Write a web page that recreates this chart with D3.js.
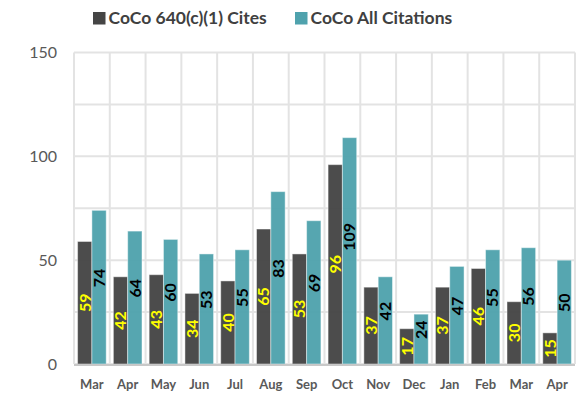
<!DOCTYPE html>
<html>
<head>
<meta charset="utf-8">
<script src="https://cdn.jsdelivr.net/npm/d3@7"></script>
<style>
  html, body { margin: 0; padding: 0; background: #ffffff; }
  svg { display: block; }
</style>
</head>
<body>
<svg id="chart" width="584" height="396"></svg>
<script>
// Monthly citation counts
const months = ["Mar", "Apr", "May", "Jun", "Jul", "Aug", "Sep", "Oct", "Nov", "Dec", "Jan", "Feb", "Mar", "Apr"];
const cites640 = [59, 42, 43, 34, 40, 65, 53, 96, 37, 17, 37, 46, 30, 15];
const citesAll = [74, 64, 60, 53, 55, 83, 69, 109, 42, 24, 47, 55, 56, 50];
const seriesNames = ["CoCo 640(c)(1) Cites", "CoCo All Citations"];
const yTicks = [0, 50, 100, 150];
const yGrid = [0, 25, 50, 75, 100, 125, 150];

const colors = ["#454545", "#4fa2ad"];
const labelColors = ["#ffff00", "#000000"];

const svg = d3.select("#chart");
const margin = { left: 74, right: 9, top: 52.5, bottom: 32 };
const W = 584, H = 396;

const x0 = d3.scaleBand()
  .domain(d3.range(months.length))
  .range([margin.left, W - margin.right])
  .paddingInner(0.2)
  .paddingOuter(0.1);

const x1 = d3.scaleBand()
  .domain([0, 1])
  .range([0, x0.bandwidth()]);

const y = d3.scaleLinear()
  .domain([0, 150])
  .range([H - margin.bottom, margin.top]);

// Grid: horizontal every 25, vertical at category boundaries
const grid = svg.append("g").attr("class", "grid");
grid.selectAll("line.h")
  .data(yGrid)
  .join("line")
  .attr("class", "h")
  .attr("x1", margin.left).attr("x2", W - margin.right)
  .attr("y1", d => y(d)).attr("y2", d => y(d))
  .attr("stroke", "#e3e3e3").attr("stroke-width", 2);

const [r0] = x0.range();
grid.selectAll("line.v")
  .data(d3.range(months.length + 1))
  .join("line")
  .attr("class", "v")
  .attr("x1", i => r0 + i * x0.step()).attr("x2", i => r0 + i * x0.step())
  .attr("y1", y(150)).attr("y2", y(0))
  .attr("stroke", "#e3e3e3").attr("stroke-width", 2);

// Bars
const rows = months.map((m, i) => ({ i, vals: [cites640[i], citesAll[i]] }));
const groups = svg.append("g").selectAll("g")
  .data(rows)
  .join("g")
  .attr("transform", d => `translate(${x0(d.i)},0)`);

groups.selectAll("rect")
  .data(d => d.vals.map((v, s) => ({ v, s })))
  .join("rect")
  .attr("x", d => x1(d.s))
  .attr("width", x1.bandwidth())
  .attr("y", d => y(d.v))
  .attr("height", d => y(0) - y(d.v))
  .attr("fill", d => colors[d.s])
  .attr("fill-opacity", 0.96)
  .attr("stroke", "#ffffff")
  .attr("stroke-opacity", 0.45)
  .attr("stroke-width", 1);

// Baseline
svg.append("line")
  .attr("x1", margin.left).attr("x2", W - margin.right)
  .attr("y1", y(0) + 1).attr("y2", y(0) + 1)
  .attr("stroke", "#c8c8c8").attr("stroke-width", 2);

// Value labels, rotated to read upward
groups.selectAll("text")
  .data(d => d.vals.map((v, s) => ({ v, s })))
  .join("text")
  .attr("transform", d => `translate(${x1(d.s) + x1.bandwidth() / 2},${y(d.v / 2)}) rotate(-90)`)
  .attr("text-anchor", d => d.s === 0 ? "middle" : "start")
  .attr("dy", "0.36em")
  .attr("font-family", "Lato, 'Open Sans', sans-serif")
  .attr("font-weight", "bold")
  .attr("font-size", 16)
  .attr("fill", d => labelColors[d.s])
  .text(d => d.v);

// Y axis
const yAxis = svg.append("g")
  .attr("transform", `translate(${margin.left},0)`)
  .call(d3.axisLeft(y).tickValues(yTicks).tickSize(0).tickPadding(17));
yAxis.select(".domain").remove();
yAxis.selectAll("text")
  .attr("font-family", "Lato, 'Open Sans', sans-serif")
  .attr("font-size", 16)
  .attr("fill", "#595959");

// X axis
const xAxis = svg.append("g")
  .attr("transform", `translate(0,${y(0)})`)
  .call(d3.axisBottom(x0).tickFormat(i => months[i]).tickSize(0).tickPadding(16));
xAxis.select(".domain").remove();
xAxis.selectAll("text")
  .attr("font-family", "Lato, 'Open Sans', sans-serif")
  .attr("font-weight", "bold")
  .attr("font-size", 13)
  .attr("fill", "#595959");

// Legend
const legendItems = [
  { name: seriesNames[0], color: colors[0], x: 93 },
  { name: seriesNames[1], color: colors[1], x: 295 }
];
const legend = svg.append("g");
legendItems.forEach(it => {
  legend.append("rect")
    .attr("x", it.x).attr("y", 12)
    .attr("width", 12.5).attr("height", 12.5)
    .attr("fill", it.color);
  legend.append("text")
    .attr("x", it.x + 15.5).attr("y", 24)
    .attr("font-family", "Lato, 'Open Sans', sans-serif")
    .attr("font-weight", "bold")
    .attr("font-size", 17.5)
    .attr("fill", "#404040")
    .text(it.name);
});
</script>
</body>
</html>
